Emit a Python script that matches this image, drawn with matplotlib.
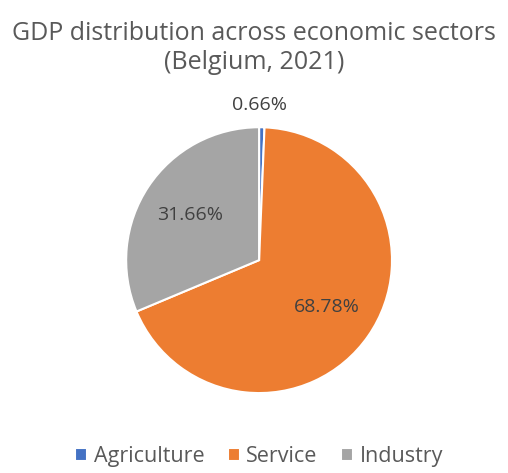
import matplotlib
matplotlib.use("Agg")
import matplotlib.pyplot as plt
import numpy as np

# Datos
sectores = ["Agriculture", "Service", "Industry"]
porcentajes = [0.66, 68.78, 31.66]
colores = ["#4472C4", "#ED7D31", "#A5A5A5"]

plt.rcParams["font.family"] = ["Open Sans", "DejaVu Sans"]
texto = "#595959"

fig = plt.figure(figsize=(5.08, 4.73), dpi=100)
ax = fig.add_axes([0.51 - 0.262, 0.450 - 0.281, 0.524, 0.562])

wedges, _ = ax.pie(
    porcentajes, colors=colores, startangle=90, counterclock=False,
    wedgeprops=dict(edgecolor="white", linewidth=1.5),
)
ax.set_aspect("equal")
ax.set_xlim(-1, 1)
ax.set_ylim(-1, 1)

# Etiquetas de porcentaje
for w, p in zip(wedges, porcentajes):
    ang = np.deg2rad((w.theta1 + w.theta2) / 2)
    r = 1.17 if p < 5 else 0.62
    ax.text(r * np.cos(ang) - (0.02 if p < 5 else 0), r * np.sin(ang),
            f"{p:.2f}%", ha="center", va="center", fontsize=14,
            color="#404040", clip_on=False)

fig.text(0.5, 0.956, "GDP distribution across economic sectors\n(Belgium, 2021)",
         ha="center", va="top", fontsize=18, color=texto, linespacing=1.2)

fig.legend(wedges, sectores, loc="lower center", bbox_to_anchor=(0.51, -0.028),
           ncol=3, frameon=False, fontsize=15.5, handlelength=0.55,
           handleheight=0.55, handletextpad=0.3, columnspacing=1.1,
           labelcolor=texto)

plt.savefig("out.png", dpi=100)
